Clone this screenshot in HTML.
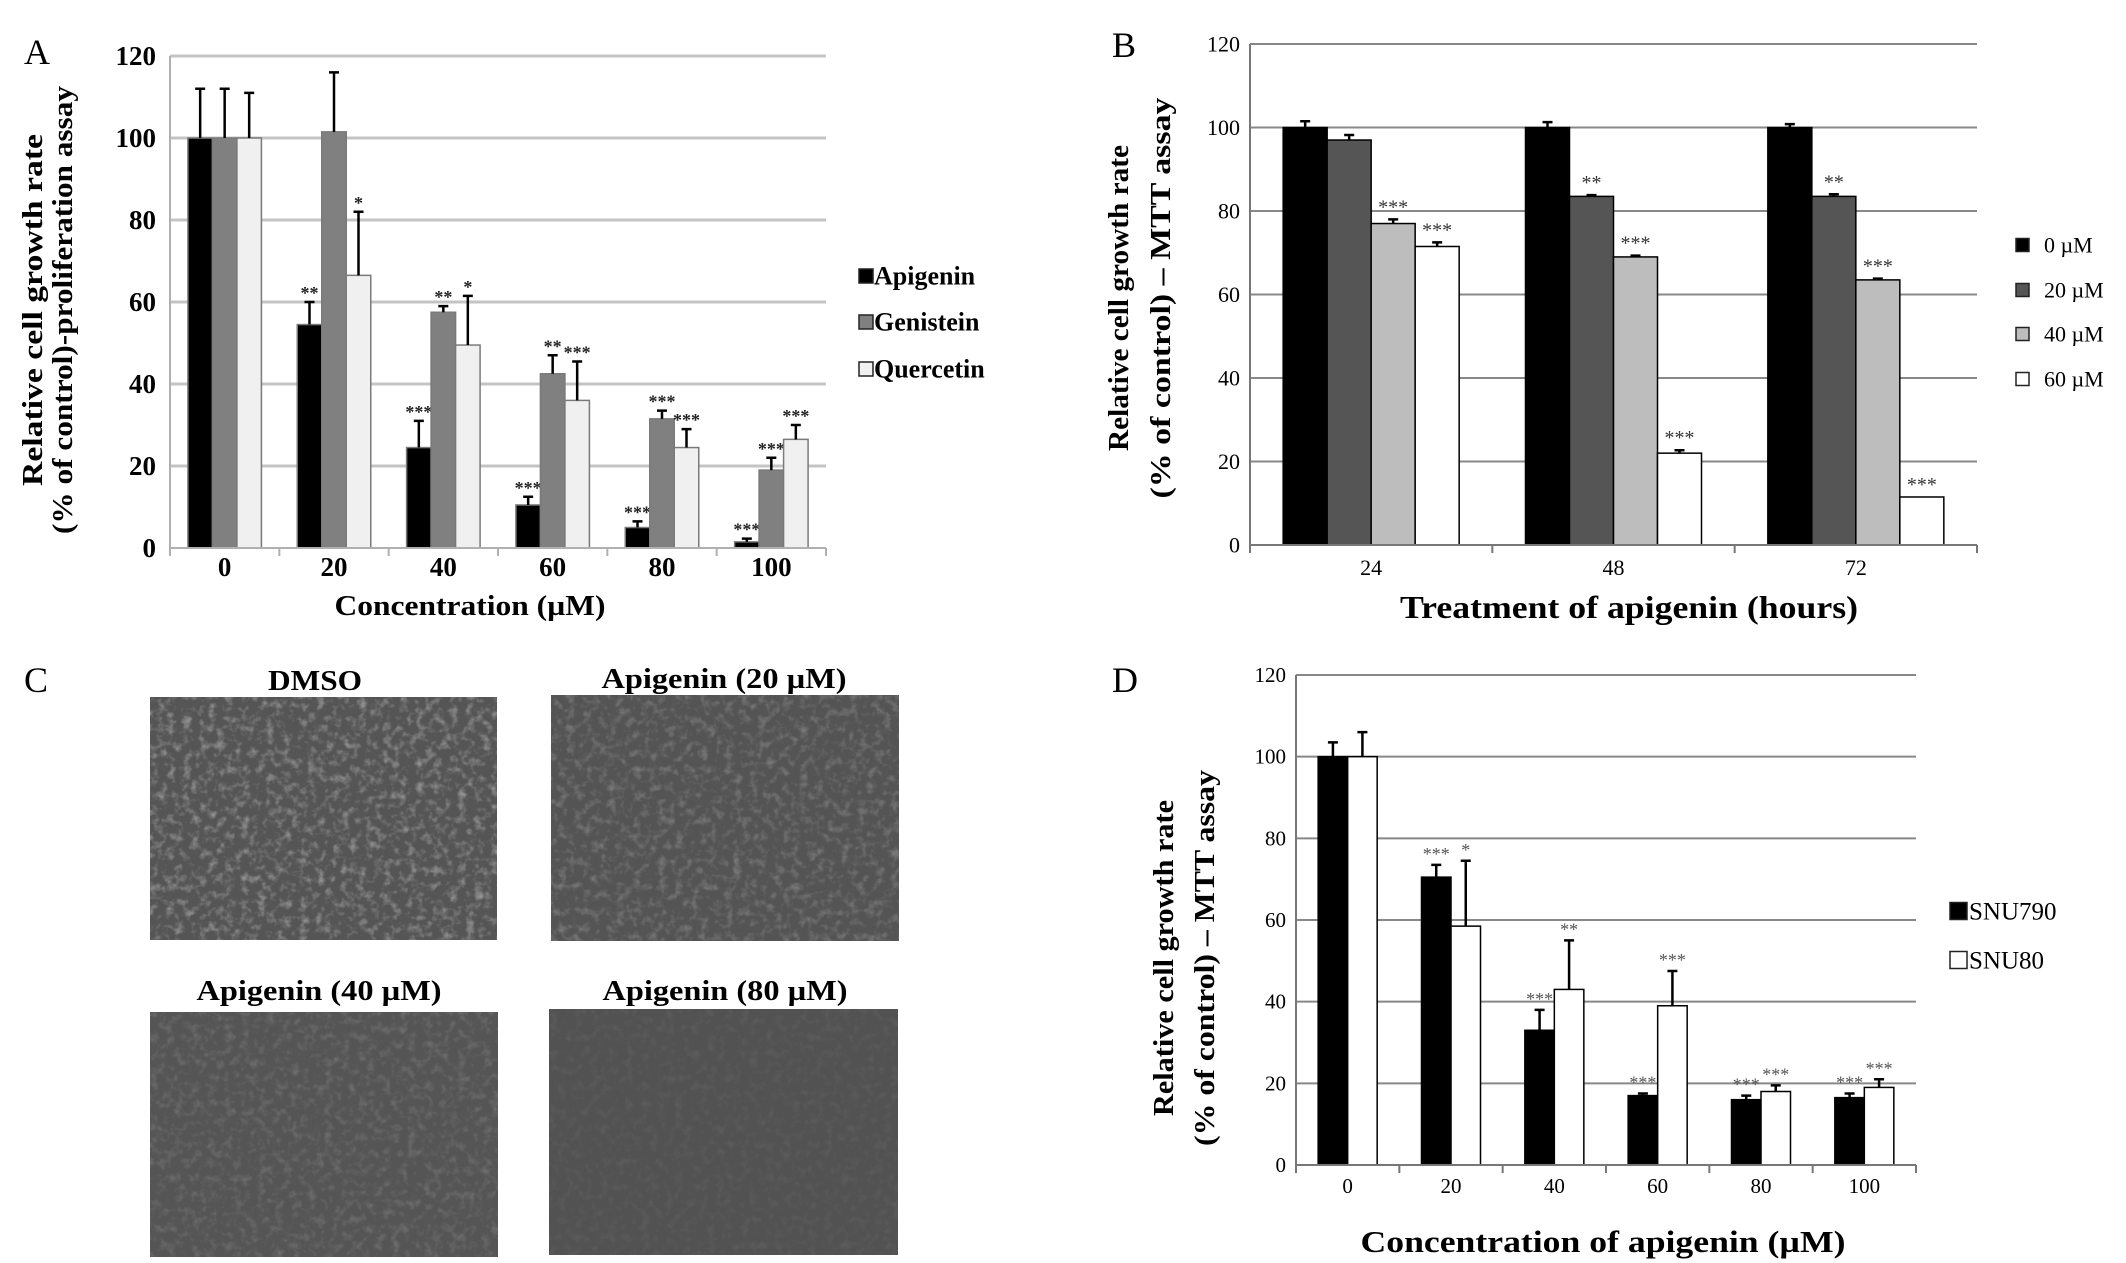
<!DOCTYPE html>
<html><head><meta charset="utf-8"><style>
html,body{margin:0;padding:0;background:#fff;}
svg{display:block;font-family:"Liberation Serif",serif;}
</style></head><body>
<svg id="fig" width="2126" height="1263" viewBox="0 0 2126 1263" xmlns="http://www.w3.org/2000/svg">
<defs>
<filter id="cells" x="0" y="0" width="100%" height="100%">
<feTurbulence type="fractalNoise" baseFrequency="0.12" numOctaves="3" seed="4"/>
<feColorMatrix type="matrix" values="0 0 0 0 0.62  0 0 0 0 0.62  0 0 0 0 0.62  0 0 0 1.6 -0.75"/>
</filter>
</defs>
<g font-size="36">
<text x="24" y="64">A</text>
<text x="1112" y="57">B</text>
<text x="24" y="692">C</text>
<text x="1112" y="692">D</text>
</g>
<g id="panelC"></g>
<g id="panelA"></g>
<g id="panelB"></g>
<g id="panelD"></g>
</svg>
<script>
// ---------- Panel A data ----------
const aCategories = ["0","20","40","60","80","100"];
const aApigenin = [100, 54.5, 24.5, 10.5, 5, 1.5];
const aApigeninErr = [12, 5.5, 6.5, 2, 1.5, 0.8];
const aGenistein = [100, 101.5, 57.5, 42.5, 31.5, 19];
const aGenisteinErr = [12, 14.5, 1.5, 4.5, 2, 3];
const aQuercetin = [100, 66.5, 49.5, 36, 24.5, 26.5];
const aQuercetinErr = [11, 15.5, 12, 9.5, 4.5, 3.5];
const aApigeninStars = ["","**","***","***","***","***"];
const aGenisteinStars = ["","","**","**","***","***"];
const aQuercetinStars = ["","*","*","***","***","***"];
const aTicks = [0,20,40,60,80,100,120];
// ---------- Panel B data ----------
const bCategories = ["24","48","72"];
const b0 = [100, 100, 100];
const b0Err = [1.5, 1.3, 0.8];
const b20 = [97, 83.5, 83.5];
const b20Err = [1.2, 0.3, 0.5];
const b40 = [77, 69, 63.5];
const b40Err = [1, 0.3, 0.3];
const b60 = [71.5, 22, 11.5];
const b60Err = [1, 0.7, 0];
const b0Stars = ["","",""];
const b20Stars = ["","**","**"];
const b40Stars = ["***","***","***"];
const b60Stars = ["***","***","***"];
const bTicks = [0,20,40,60,80,100,120];
// ---------- Panel D data ----------
const dCategories = ["0","20","40","60","80","100"];
const dSNU790 = [100, 70.5, 33, 17, 16, 16.5];
const dSNU790Err = [3.5, 3, 5, 0.5, 1, 1];
const dSNU80 = [100, 58.5, 43, 39, 18, 19];
const dSNU80Err = [6, 16, 12, 8.5, 1.5, 2];
const dSNU790Stars = ["","***","***","***","***","***"];
const dSNU80Stars = ["","*","**","***","***","***"];
const dTicks = [0,20,40,60,80,100,120];

const NS = "http://www.w3.org/2000/svg";
function mk(parent, tag, attrs, txt){
  const e = document.createElementNS(NS, tag);
  for (const k in attrs) e.setAttribute(k, attrs[k]);
  if (txt !== undefined) e.textContent = txt;
  parent.appendChild(e);
  return e;
}

function drawChart(g, cfg){
  const yS = v => cfg.y0 - (v/120)*(cfg.y0-cfg.y120);
  const cw = (cfg.right-cfg.left)/cfg.cats.length;
  const xC = i => cfg.left + cw*(i+0.5);
  cfg.ticks.forEach(t=>{
    if (t===0) return;
    const l = mk(g,'line',{x1:cfg.left,x2:cfg.right,y1:yS(t),y2:yS(t),stroke:cfg.grid,'stroke-width':cfg.gridW});
    
    
  });
  const n = cfg.series.length;
  cfg.series.forEach((s,si)=>{
    s.vals.forEach((v,i)=>{
      const x = xC(i) - n*cfg.bw/2 + si*cfg.bw;
      const r = mk(g,'rect',{x:x,y:yS(v),width:cfg.bw,height:yS(0)-yS(v),fill:s.fill,stroke:cfg.barStroke,'stroke-width':cfg.barSW});
      
      
      const e = s.err[i];
      const cx = x + cfg.bw/2;
      if (e>0){
        const el = mk(g,'path',{d:`M${cx} ${yS(v)} V${yS(v+e)} M${cx-5} ${yS(v+e)} H${cx+5}`,stroke:'#000','stroke-width':2.5,fill:'none'});
        
        
      }
      if (s.stars[i]){
        const st = mk(g,'text',{x:cx,y:yS(v+e)-cfg.starGap,'text-anchor':'middle','font-size':cfg.starFS,fill:cfg.starFill,'font-weight':cfg.starBold?'bold':'normal'}, s.stars[i]);
        
        
      }
    });
  });
  const ax = mk(g,'path',{d:`M${cfg.left} ${cfg.y120} V${cfg.y0} H${cfg.right}`,stroke:cfg.axis,'stroke-width':2,fill:'none'});
  
  
  for (let i=0;i<=cfg.cats.length;i++){
    const x = cfg.left+cw*i;
    const tk = mk(g,'line',{x1:x,x2:x,y1:cfg.y0,y2:cfg.y0+8,stroke:cfg.axis,'stroke-width':2});
    
    
  }
  cfg.ticks.forEach(t=>{
    const tl = mk(g,'text',{x:cfg.left-cfg.tickPad,y:yS(t)+cfg.tickFS*0.33,'text-anchor':'end','font-size':cfg.tickFS,'font-weight':cfg.bold?'bold':'normal'}, String(t));
    
    
  });
  cfg.cats.forEach((c,i)=>{
    const tl = mk(g,'text',{x:xC(i),y:cfg.xLabY,'text-anchor':'middle','font-size':cfg.tickFS,'font-weight':cfg.bold?'bold':'normal'}, c);
    
    
  });
  const xt = mk(g,'text',{x:cfg.xTitle[0]-cfg.xTitleLen/2,y:cfg.xTitle[1],'font-size':cfg.xTitleFS,'font-weight':'bold',textLength:cfg.xTitleLen,lengthAdjust:'spacingAndGlyphs'}, cfg.xTitleText);
  
  
  cfg.yTitle.forEach((line,li)=>{
    const L = cfg.yTitleLen[li];
    const yt = mk(g,'text',{x:-L/2,y:0,'font-size':cfg.yTitleFS,'font-weight':'bold',textLength:L,lengthAdjust:'spacingAndGlyphs',transform:`translate(${cfg.yTitleX[li]} ${cfg.yTitleCY}) rotate(-90)`}, line);
    
    
  });
  cfg.series.forEach((s,si)=>{
    const ly = cfg.legY[si];
    const lg = mk(g,'g',{});
    
    
    mk(lg,'rect',{x:cfg.legX,y:ly-cfg.legSq/2,width:cfg.legSq,height:cfg.legSq,fill:s.fill,stroke:'#222','stroke-width':1.5});
    mk(lg,'text',{x:cfg.legX+cfg.legSq+cfg.legGap,y:ly+cfg.legFS*0.33,'font-size':cfg.legFS,'font-weight':cfg.legBold?'bold':'normal'}, s.label);
  });
}

drawChart(document.getElementById('panelA'),{
  left:170,right:826,y0:548,y120:56,cats:aCategories,ticks:aTicks,bw:24.5,
  grid:'#c4c4c4',gridW:3,axis:'#b0b0b0',barStroke:'#7a7a7a',barSW:1.5,
  starFS:18,starGap:3,starFill:'#222',starBold:true,tickFS:27,tickPad:14,bold:true,xLabY:576,
  xTitle:[470,615],xTitleText:'Concentration (\u00b5M)',xTitleFS:28,xTitleLen:271,
  yTitle:['Relative cell growth rate','(% of control)-proliferation assay'],yTitleX:[42,72],yTitleCY:310,yTitleFS:28,yTitleLen:[352,448],
  legX:859,legY:[276,322,369],legSq:14,legGap:1,legFS:26,legBold:true,
  series:[
    {key:'apigenin',label:'Apigenin',fill:'#000',vals:aApigenin,err:aApigeninErr,stars:aApigeninStars},
    {key:'genistein',label:'Genistein',fill:'#808080',vals:aGenistein,err:aGenisteinErr,stars:aGenisteinStars},
    {key:'quercetin',label:'Quercetin',fill:'#f0f0f0',vals:aQuercetin,err:aQuercetinErr,stars:aQuercetinStars}
  ]
});

drawChart(document.getElementById('panelB'),{
  left:1250,right:1977,y0:545,y120:44,cats:bCategories,ticks:bTicks,bw:44,
  grid:'#888',gridW:2,axis:'#777',barStroke:'#000',barSW:1.5,
  starFS:20,starGap:6,starFill:'#333',starBold:false,tickFS:22,tickPad:10,bold:false,xLabY:575,
  xTitle:[1629,618],xTitleText:'Treatment of apigenin (hours)',xTitleFS:32,xTitleLen:458,
  yTitle:['Relative cell growth rate','(% of control) \u2013 MTT assay'],yTitleX:[1128,1170],yTitleCY:298,yTitleFS:28,yTitleLen:[306,401],
  legX:2016,legY:[245,290,334,379],legSq:13,legGap:15,legFS:22,legBold:false,
  series:[
    {key:'0uM',label:'0 \u00b5M',fill:'#000',vals:b0,err:b0Err,stars:b0Stars},
    {key:'20uM',label:'20 \u00b5M',fill:'#555',vals:b20,err:b20Err,stars:b20Stars},
    {key:'40uM',label:'40 \u00b5M',fill:'#bdbdbd',vals:b40,err:b40Err,stars:b40Stars},
    {key:'60uM',label:'60 \u00b5M',fill:'#fff',vals:b60,err:b60Err,stars:b60Stars}
  ]
});

drawChart(document.getElementById('panelD'),{
  left:1296,right:1916,y0:1165,y120:675,cats:dCategories,ticks:dTicks,bw:29.5,
  grid:'#888',gridW:2,axis:'#777',barStroke:'#000',barSW:1.5,
  starFS:18,starGap:5,starFill:'#555',starBold:false,tickFS:21,tickPad:10,bold:false,xLabY:1193,
  xTitle:[1603,1252],xTitleText:'Concentration of apigenin (\u00b5M)',xTitleFS:31,xTitleLen:485,
  yTitle:['Relative cell growth rate','(% of control) \u2013 MTT assay'],yTitleX:[1173,1214],yTitleCY:958,yTitleFS:28,yTitleLen:[316,376],
  legX:1950,legY:[911,960],legSq:17,legGap:2,legFS:25,legBold:false,
  series:[
    {key:'snu790',label:'SNU790',fill:'#000',vals:dSNU790,err:dSNU790Err,stars:dSNU790Stars},
    {key:'snu80',label:'SNU80',fill:'#fff',vals:dSNU80,err:dSNU80Err,stars:dSNU80Stars}
  ]
});

// ---------- Panel C micrographs ----------
const pc = document.getElementById('panelC');
const imgs = [
  {key:'dmso',title:'DMSO',x:150,y:697,w:347,h:243,tx:315,ty:690,tl:94,fill:'#555',op:0.75},
  {key:'apigenin-20',title:'Apigenin (20 \u00b5M)',x:551,y:695,w:348,h:246,tx:724,ty:688,tl:245,fill:'#545454',op:0.45},
  {key:'apigenin-40',title:'Apigenin (40 \u00b5M)',x:150,y:1012,w:348,h:245,tx:319,ty:1000,tl:245,fill:'#555',op:0.3},
  {key:'apigenin-80',title:'Apigenin (80 \u00b5M)',x:549,y:1009,w:349,h:246,tx:725,ty:1000,tl:245,fill:'#525252',op:0.12}
];
imgs.forEach(m=>{
  const g = mk(pc,'g',{});
  
  
  mk(g,'rect',{x:m.x,y:m.y,width:m.w,height:m.h,fill:m.fill});
  mk(g,'rect',{x:m.x,y:m.y,width:m.w,height:m.h,filter:'url(#cells)',opacity:m.op});
  const t = mk(pc,'text',{x:m.tx-m.tl/2,y:m.ty,'font-size':29,'font-weight':'bold',textLength:m.tl,lengthAdjust:'spacingAndGlyphs'}, m.title);
  
  
});
</script>
</body></html>
